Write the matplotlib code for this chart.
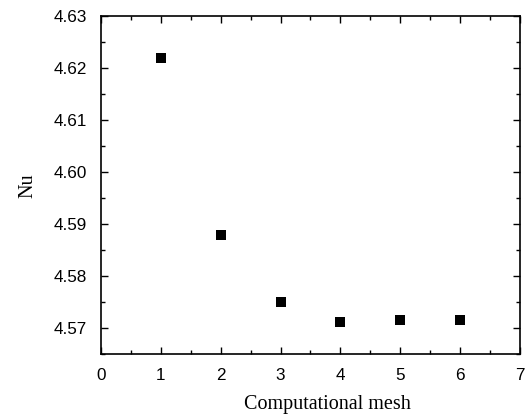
import matplotlib
matplotlib.use("Agg")
import matplotlib.pyplot as plt
from matplotlib.ticker import MultipleLocator

mesh = [1, 2, 3, 4, 5, 6]
nu = [4.6218, 4.5878, 4.5750, 4.5711, 4.5715, 4.5715]
x_ticks = [0, 1, 2, 3, 4, 5, 6, 7]
y_ticks = [4.57, 4.58, 4.59, 4.60, 4.61, 4.62, 4.63]

fig = plt.figure(figsize=(5.26, 4.15), dpi=100)
ax = fig.add_axes([0.192, 0.1477, 0.7966, 0.8145])

ax.plot(mesh, nu, linestyle="none", marker="s", markersize=7.5,
        color="black", markeredgewidth=0)

ax.set_xlim(0, 7)
ax.set_ylim(4.565, 4.63)
ax.set_xticks(x_ticks)
ax.set_yticks(y_ticks)
ax.set_xticklabels([str(t) for t in x_ticks])
ax.set_yticklabels([f"{t:.2f}" for t in y_ticks])
ax.xaxis.set_minor_locator(MultipleLocator(0.5))
ax.yaxis.set_minor_locator(MultipleLocator(0.005))

ax.tick_params(which="both", direction="in", top=True, right=True,
               width=1.0, labelsize=12.3)
ax.tick_params(axis="x", which="major", pad=10.5)
ax.tick_params(axis="y", which="major", pad=10)
ax.tick_params(which="major", length=5)
ax.tick_params(which="minor", length=3)
for lbl in ax.get_xticklabels() + ax.get_yticklabels():
    lbl.set_fontfamily("Liberation Sans")
for s in ax.spines.values():
    s.set_linewidth(1.2)

ax.set_xlabel("Computational mesh", fontfamily="Liberation Serif", fontsize=14.5)
ax.xaxis.set_label_coords(0.54, -0.1636)
ax.xaxis.label.set_va("baseline")
ax.set_ylabel("Nu", fontfamily="Liberation Serif", fontsize=14.5)
ax.yaxis.set_label_coords(-0.175, 0.496)
ax.yaxis.label.set_va("center")

fig.savefig("out.png", dpi=100)
